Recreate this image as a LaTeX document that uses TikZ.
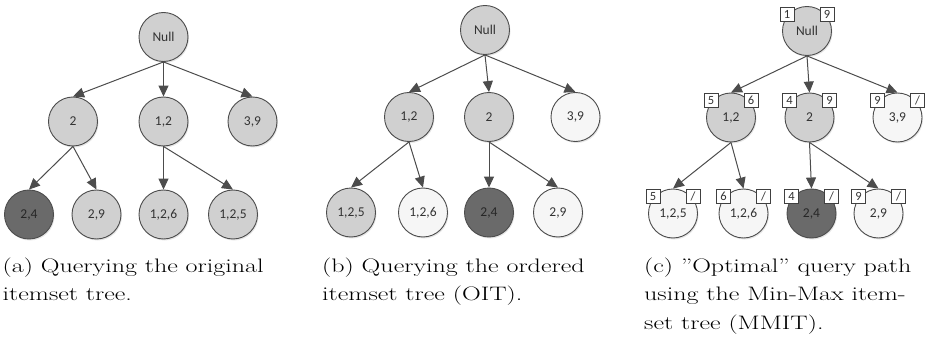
\documentclass[tikz,border=0pt]{standalone}
\usepackage{fontspec}
\newfontfamily\nodefont{Carlito}
\usetikzlibrary{arrows.meta,shadows,calc}

\definecolor{edgegray}{HTML}{4C4C4C}
\definecolor{lightfill}{HTML}{D0D0D0}
\definecolor{whitefill}{HTML}{F6F6F6}
\definecolor{darkfill}{HTML}{6A6A6A}
\definecolor{labelgray}{HTML}{333333}

\tikzset{
  itembase/.style={circle, draw=edgegray, line width=0.9pt, minimum size=49pt,
    inner sep=0pt, font=\nodefont\fontsize{13.5}{15}\selectfont, text=labelgray,
    drop shadow={shadow xshift=1pt, shadow yshift=-1.5pt, opacity=0.2}},
  greynode/.style={itembase, fill=lightfill},
  whitenode/.style={itembase, fill=whitefill},
  darknode/.style={itembase, fill=darkfill, text=black!85},
  boundbox/.style={draw=black!75, fill=white, line width=0.7pt, minimum size=14pt,
    inner sep=0pt, font=\nodefont\fontsize{12.5}{13}\selectfont, text=labelgray},
  treelink/.style={draw=edgegray, line width=1pt, -{Triangle[length=11pt,width=10pt]}},
  capline/.style={anchor=base west, inner sep=0pt},
}

% min/max boxes sitting on the upper rim of an MMIT node
\newcommand\mmbounds[3]{%
  \node[boundbox] (#1-min) at ($(#1)+(-20,-17)$) {#2};
  \node[boundbox] (#1-max) at ($(#1)+(20,-17)$) {#3};}

% caption line, set wide and low
\newcommand\capfont{\fontsize{26}{30}\selectfont}
\newcommand\captext[1]{\scalebox{1}[0.75]{\capfont #1}}

\begin{document}
\begin{tikzpicture}[x=1pt,y=-1pt]
\useasboundingbox (0,0) rectangle (930,337);

% ---------- (a) original itemset tree ----------
\node[greynode] (aN)   at (163.5,37)    {Null};
\node[greynode] (a2)   at (73,121.5)    {2};
\node[greynode] (a12)  at (163.5,121.5) {1,2};
\node[greynode] (a39)  at (252.5,121.5) {3,9};
\node[darknode] (a24)  at (29,214.5)    {2,4};
\node[greynode] (a29)  at (96.5,214.5)  {2,9};
\node[greynode] (a126) at (163.5,214.5) {1,2,6};
\node[greynode] (a125) at (233,214.5)   {1,2,5};

\draw[treelink] (aN.south) -- (a2.north);
\draw[treelink] (aN.south) -- (a12.north);
\draw[treelink] (aN.south) -- (a39.north);
\draw[treelink] (a2.south) -- (a24.north);
\draw[treelink] (a2.south) -- (a29.north);
\draw[treelink] (a12.south) -- (a126.north);
\draw[treelink] (a12.south) -- (a125.north);

% ---------- (b) ordered itemset tree ----------
\node[greynode]  (bN)   at (485,30)      {Null};
\node[greynode]  (b12)  at (409,117)     {1,2};
\node[greynode]  (b2)   at (489,117)     {2};
\node[whitenode] (b39)  at (575.5,117)   {3,9};
\node[greynode]  (b125) at (351,212.5)   {1,2,5};
\node[whitenode] (b126) at (423,212.5)   {1,2,6};
\node[darknode]  (b24)  at (489,212.5)   {2,4};
\node[whitenode] (b29)  at (558,212.5)   {2,9};

\draw[treelink] (bN.south) -- (b12.north);
\draw[treelink] (bN.south) -- (b2.north);
\draw[treelink] (bN.south) -- (b39.north);
\draw[treelink] (b12.south) -- (b125.north);
\draw[treelink] (b12.south) -- (b126.north);
\draw[treelink] (b2.south) -- (b24.north);
\draw[treelink] (b2.south) -- (b29.north);

% ---------- (c) min-max itemset tree ----------
\node[greynode]  (cN)   at (807,31)      {Null};
\node[greynode]  (c12)  at (731,117.5)   {1,2};
\node[greynode]  (c2)   at (809.5,117.5) {2};
\node[whitenode] (c39)  at (897.5,117.5) {3,9};
\node[whitenode] (c125) at (673,213.5)   {1,2,5};
\node[whitenode] (c126) at (743.5,213.5) {1,2,6};
\node[darknode]  (c24)  at (811.5,213.5) {2,4};
\node[whitenode] (c29)  at (878.5,213.5) {2,9};

\mmbounds{cN}{1}{9}
\mmbounds{c12}{5}{6}
\mmbounds{c2}{4}{9}
\mmbounds{c39}{9}{/}
\mmbounds{c125}{5}{/}
\mmbounds{c126}{6}{/}
\mmbounds{c24}{4}{/}
\mmbounds{c29}{9}{/}

\draw[treelink] (cN.south) -- (c12.north);
\draw[treelink] (cN.south) -- (c2.north);
\draw[treelink] (cN.south) -- (c39.north);
\draw[treelink] (c12.south) -- (c125.north);
\draw[treelink] (c12.south) -- (c126.north);
\draw[treelink] (c2.south) -- (c24.north);
\draw[treelink] (c2.south) -- (c29.north);

% ---------- captions ----------
\node[capline] (capa1) at (2.5,272)   {\captext{(a) Querying the original}};
\node[capline] (capa2) at (2.5,300.5) {\captext{itemset tree.}};
\node[capline] (capb1) at (322,272)   {\captext{(b) Querying the ordered}};
\node[capline] (capb2) at (322,300.5) {\captext{itemset tree (OIT).}};
\node[capline] (capc1) at (644,272)   {\captext{(c) \textquotedblright Optimal\textquotedblright\ query path}};
\node[capline] (capc2) at (644,300.5) {\captext{using the Min-Max item-}};
\node[capline] (capc3) at (644,329)   {\captext{set tree (MMIT).}};
\end{tikzpicture}
\end{document}
